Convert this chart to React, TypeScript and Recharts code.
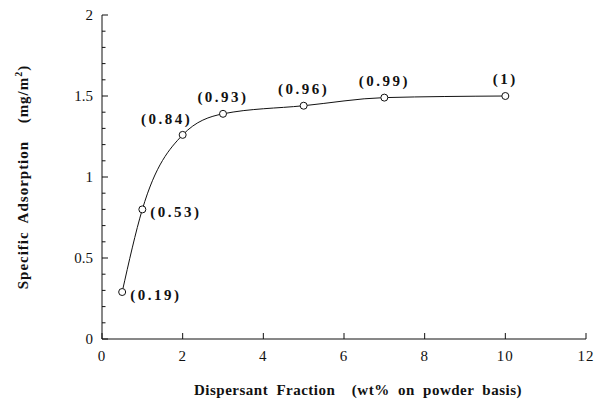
// Specific adsorption vs dispersant fraction — serif, black-on-white journal figure.
import React from "react";
import { LabelList, Line, LineChart, XAxis, YAxis } from "recharts";

const FRACTIONS = [0.5, 1, 2, 3, 5, 7, 10];
const ADSORPTION = [0.29, 0.8, 1.26, 1.39, 1.44, 1.49, 1.5];
const COVERAGE = ["(0.19)", "(0.53)", "(0.84)", "(0.93)", "(0.96)", "(0.99)", "(1)"];

const X_TICKS = [0, 2, 4, 6, 8, 10, 12];
const Y_TICKS = [
  0, 0.1, 0.2, 0.3, 0.4, 0.5, 0.6, 0.7, 0.8, 0.9, 1, 1.1, 1.2, 1.3, 1.4, 1.5, 1.6, 1.7, 1.8,
  1.9, 2,
];

const data = FRACTIONS.map((x, i) => ({ x, y: ADSORPTION[i], label: COVERAGE[i] }));

const SERIF = '"Liberation Serif", "Times New Roman", Times, "DejaVu Serif", serif';
const INK = "#111";

const isMajor = (v: number) => Math.abs(v * 2 - Math.round(v * 2)) < 1e-6;

function YTick(props: any) {
  const { x, y, payload } = props;
  const major = isMajor(payload.value);
  return (
    <g>
      <line x1={x} x2={x + (major ? 6 : 3.5)} y1={y} y2={y} stroke={INK} />
      {major && (
        <text
          x={x - 9}
          y={y}
          dy={5}
          textAnchor="end"
          style={{ fontFamily: SERIF, fontSize: 15 }}
          fill={INK}
        >
          {String(payload.value)}
        </text>
      )}
    </g>
  );
}

function XTick(props: any) {
  const { x, y, payload } = props;
  return (
    <g>
      <line x1={x} x2={x} y1={y} y2={y - 6} stroke={INK} />
      <text
        x={x}
        y={y + 22}
        textAnchor="middle"
        style={{ fontFamily: SERIF, fontSize: 15, letterSpacing: 1 }}
        fill={INK}
      >
        {String(payload.value)}
      </text>
    </g>
  );
}

// first two labels sit to the right of the point, the rest above it
function PointLabel(props: any) {
  const { x, y, value, index } = props;
  let tx = x;
  let ty = y - 12;
  let anchor: "start" | "middle" = "middle";
  if (index < 2) {
    tx = x + 8;
    ty = y + 8;
    anchor = "start";
  } else if (index === 2) {
    tx = x - 16;
    ty = y - 11;
  }
  return (
    <text
      x={tx}
      y={ty}
      textAnchor={anchor}
      style={{ fontFamily: SERIF, fontWeight: "bold", fontSize: 15, letterSpacing: 2.5 }}
      fill={INK}
    >
      {value}
    </text>
  );
}

function XTitle(props: any) {
  const { viewBox } = props;
  return (
    <text
      x={viewBox.x + viewBox.width / 2 + 14}
      y={viewBox.y + 56}
      textAnchor="middle"
      style={{
        fontFamily: SERIF,
        fontWeight: "bold",
        fontSize: 15,
        letterSpacing: 0.5,
        wordSpacing: 4,
        whiteSpace: "pre",
      }}
      fill={INK}
    >
      {"Dispersant Fraction  (wt% on powder basis)"}
    </text>
  );
}

function YTitle(props: any) {
  const { viewBox } = props;
  const cx = viewBox.x + 28;
  const cy = viewBox.y + viewBox.height / 2;
  return (
    <text
      x={cx}
      y={cy}
      transform={`rotate(-90 ${cx} ${cy})`}
      textAnchor="middle"
      style={{
        fontFamily: SERIF,
        fontWeight: "bold",
        fontSize: 15,
        letterSpacing: 1,
        wordSpacing: 4,
        whiteSpace: "pre",
      }}
      fill={INK}
    >
      {"Specific Adsorption  (mg/m"}
      <tspan style={{ fontSize: 10 }} dy={-6}>
        2
      </tspan>
      <tspan dy={6}>)</tspan>
    </text>
  );
}

export default function App() {
  return (
    <div style={{ position: "absolute", left: 0, top: 0, background: "#fff" }}>
      <LineChart
        width={594}
        height={401}
        data={data}
        margin={{ top: 15, right: 8, left: 0, bottom: 0 }}
      >
        <XAxis
          dataKey="x"
          type="number"
          domain={[0, 12]}
          ticks={X_TICKS}
          interval={0}
          height={62}
          stroke={INK}
          tickLine={false}
          tickSize={0}
          tickMargin={0}
          tick={<XTick />}
          label={<XTitle />}
        />
        <YAxis
          type="number"
          domain={[0, 2]}
          ticks={Y_TICKS}
          interval={0}
          width={102}
          stroke={INK}
          tickLine={false}
          tickSize={0}
          tickMargin={0}
          tick={<YTick />}
          label={<YTitle />}
        />
        <Line
          type="monotone"
          dataKey="y"
          stroke={INK}
          strokeWidth={1}
          dot={{ r: 3.5, fill: "#fff", stroke: INK, strokeWidth: 1 }}
          isAnimationActive={false}
        >
          <LabelList dataKey="label" content={<PointLabel />} />
        </Line>
      </LineChart>
    </div>
  );
}
